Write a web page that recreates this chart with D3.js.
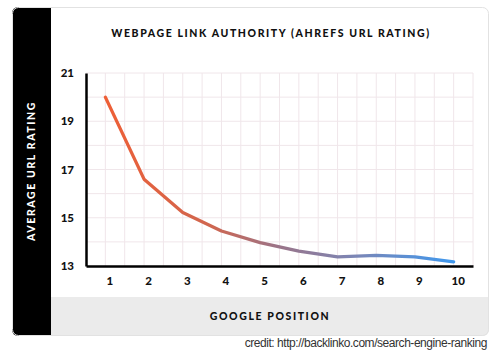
<!doctype html>
<head>
  <meta charset="utf-8">
  <script src="https://cdnjs.cloudflare.com/ajax/libs/d3/7.8.2/d3.min.js"></script>
</head>
<style>
    body { margin: 0; background: #fff; }
    svg { display: block; }
</style>
<body>
    <div id="chart"></div>
    <script>
        // Datos
        const positions = [1, 2, 3, 4, 5, 6, 7, 8, 9, 10];
        const urlRating = [20.0, 16.6, 15.22, 14.45, 13.97, 13.62, 13.38, 13.44, 13.38, 13.17];
        const yTicks = [13, 15, 17, 19, 21];

        const data = positions.map((p, i) => ({ pos: p, value: urlRating[i] }));

        const svg = d3.select('#chart')
            .append('svg')
            .attr('width', 500)
            .attr('height', 354);

        // Tarjeta: fondo negro lateral, blanco y banda gris
        const clip = svg.append('defs').append('clipPath').attr('id', 'card');
        clip.append('rect').attr('x', 12).attr('y', 7).attr('width', 477).attr('height', 329).attr('rx', 6);

        const card = svg.append('g').attr('clip-path', 'url(#card)');
        card.append('rect').attr('x', 12).attr('y', 7).attr('width', 477).attr('height', 329).attr('fill', '#fff');
        card.append('rect').attr('x', 12).attr('y', 7).attr('width', 39).attr('height', 329).attr('fill', '#000');
        card.append('rect').attr('x', 51).attr('y', 297).attr('width', 438).attr('height', 39).attr('fill', '#ebebeb');
        svg.append('rect').attr('x', 12.5).attr('y', 7.5).attr('width', 476).attr('height', 328).attr('rx', 6)
            .attr('fill', 'none').attr('stroke', '#e2e2e2').attr('stroke-width', 1);

        // Escalas
        const x = d3.scaleLinear().domain([0.5, 10.5]).range([86, 473]);
        const y = d3.scaleLinear().domain([13, 21]).range([266, 73]);

        // Rejilla
        const grid = svg.append('g');
        grid.selectAll('.vgrid')
            .data(d3.range(1, 10.6, 0.5))
            .enter()
            .append('line')
            .attr('x1', d => x(d)).attr('x2', d => x(d))
            .attr('y1', y(21)).attr('y2', y(13))
            .attr('stroke', '#f0e6ea').attr('stroke-width', 1);
        grid.selectAll('.hgrid')
            .data(d3.range(14, 21.1, 1))
            .enter()
            .append('line')
            .attr('x1', x(0.5)).attr('x2', x(10.5))
            .attr('y1', d => y(d)).attr('y2', d => y(d))
            .attr('stroke', '#f0e6ea').attr('stroke-width', 1);

        // Ejes
        const xAxis = svg.append('g')
            .attr('transform', `translate(0,${y(13)})`)
            .call(d3.axisBottom(x).tickValues(positions).tickSize(0).tickPadding(11).tickFormat(d3.format('d')));
        xAxis.select('.domain').attr('stroke', '#000').attr('stroke-width', 2.5);
        xAxis.selectAll('text')
            .attr('dx', 4)
            .attr('fill', '#111')
            .style('font', '900 11.5px Lato, sans-serif');

        const yAxis = svg.append('g')
            .attr('transform', `translate(${x(0.5)},0)`)
            .call(d3.axisLeft(y).tickValues(yTicks).tickSize(0).tickPadding(12));
        yAxis.select('.domain').attr('stroke', '#000').attr('stroke-width', 2.5);
        yAxis.selectAll('text')
            .attr('fill', '#111')
            .style('font', '900 11.5px Lato, sans-serif');

        // Degradado de la línea
        const grad = svg.select('defs').append('linearGradient')
            .attr('id', 'lineGrad')
            .attr('gradientUnits', 'userSpaceOnUse')
            .attr('x1', x(1)).attr('x2', x(10)).attr('y1', 0).attr('y2', 0);
        grad.append('stop').attr('offset', '0').attr('stop-color', '#ee5f36');
        grad.append('stop').attr('offset', '0.3').attr('stop-color', '#d0664f');
        grad.append('stop').attr('offset', '0.5').attr('stop-color', '#9a7489');
        grad.append('stop').attr('offset', '0.72').attr('stop-color', '#7b86b6');
        grad.append('stop').attr('offset', '1').attr('stop-color', '#3f98ee');

        svg.append('path')
            .datum(data)
            .attr('d', d3.line().x(d => x(d.pos)).y(d => y(d.value)))
            .attr('fill', 'none')
            .attr('stroke', 'url(#lineGrad)')
            .attr('stroke-width', 3.3)
            .attr('stroke-linejoin', 'round')
            .attr('stroke-linecap', 'round');

        // Textos
        svg.append('text')
            .attr('x', 271).attr('y', 37)
            .attr('text-anchor', 'middle')
            .attr('fill', '#111')
            .style('font', '900 10.5px Lato, sans-serif')
            .style('letter-spacing', '1.6px')
            .text('WEBPAGE LINK AUTHORITY (AHREFS URL RATING)');

        svg.append('text')
            .attr('transform', 'translate(35,171) rotate(-90)')
            .attr('text-anchor', 'middle')
            .attr('fill', '#fff')
            .style('font', '900 10.5px Lato, sans-serif')
            .style('letter-spacing', '1.6px')
            .text('AVERAGE URL RATING');

        svg.append('text')
            .attr('x', 270).attr('y', 320)
            .attr('text-anchor', 'middle')
            .attr('fill', '#111')
            .style('font', '900 10.5px Lato, sans-serif')
            .style('letter-spacing', '1.6px')
            .text('GOOGLE POSITION');

        svg.append('text')
            .attr('x', 487).attr('y', 347)
            .attr('text-anchor', 'end')
            .attr('fill', '#333')
            .style('font', '12px "Liberation Sans", Arial, sans-serif')
            .style('letter-spacing', '-0.45px')
            .text('credit: http://backlinko.com/search-engine-ranking');
    </script>
</body>
